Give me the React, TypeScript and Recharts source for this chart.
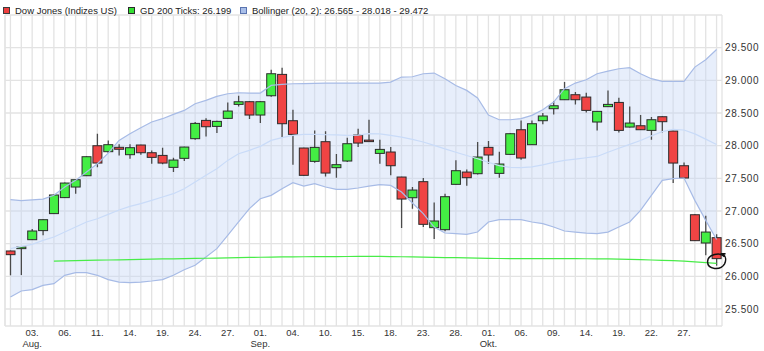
import React from 'react';
import {
  ComposedChart,
  Bar,
  Line,
  Area,
  XAxis,
  YAxis,
  CartesianGrid,
  ReferenceDot,
  ReferenceLine,
} from 'recharts';

// Trading days (Dow Jones, 30.07.2020 - 30.10.2020)
const dates = [
  '2020-07-30', '2020-07-31',
  '2020-08-03', '2020-08-04', '2020-08-05', '2020-08-06', '2020-08-07',
  '2020-08-10', '2020-08-11', '2020-08-12', '2020-08-13', '2020-08-14',
  '2020-08-17', '2020-08-18', '2020-08-19', '2020-08-20', '2020-08-21',
  '2020-08-24', '2020-08-25', '2020-08-26', '2020-08-27', '2020-08-28',
  '2020-08-31', '2020-09-01', '2020-09-02', '2020-09-03', '2020-09-04',
  '2020-09-08', '2020-09-09', '2020-09-10', '2020-09-11',
  '2020-09-14', '2020-09-15', '2020-09-16', '2020-09-17', '2020-09-18',
  '2020-09-21', '2020-09-22', '2020-09-23', '2020-09-24', '2020-09-25',
  '2020-09-28', '2020-09-29', '2020-09-30', '2020-10-01', '2020-10-02',
  '2020-10-05', '2020-10-06', '2020-10-07', '2020-10-08', '2020-10-09',
  '2020-10-12', '2020-10-13', '2020-10-14', '2020-10-15', '2020-10-16',
  '2020-10-19', '2020-10-20', '2020-10-21', '2020-10-22', '2020-10-23',
  '2020-10-26', '2020-10-27', '2020-10-28', '2020-10-29', '2020-10-30',
];

const opens = [
  26388, 26424, 26561, 26700, 26960, 27205, 27367, 27540, 27999, 27908,
  27975, 27862, 28010, 27892, 27851, 27668, 27806, 28107, 28387, 28295,
  28418, 28632, 28673, 28469, 28764, 29091, 28382, 27964, 27760, 28061,
  27663, 27765, 28163, 28085, 27882, 27903, 27520, 27203, 27449, 26745,
  26714, 27408, 27596, 27571, 27974, 27576, 27867, 28244, 28015, 28382,
  28566, 28703, 28780, 28744, 28362, 28597, 28662, 28285, 28305, 28234,
  28443, 28224, 27693, 26943, 26510, 26592,
];
const highs = [
  26395, 26455, 26725, 26875, 27250, 27435, 27490, 27840, 28183, 28081,
  28020, 28020, 28015, 27928, 27969, 27816, 27985, 28362, 28418, 28380,
  28662, 28764, 28680, 28680, 29162, 29193, 28550, 27970, 28234, 28219,
  27872, 28122, 28260, 28398, 28091, 27979, 27525, 27367, 27505, 27132,
  27265, 27775, 27637, 28055, 28071, 27908, 28190, 28387, 28387, 28499,
  28683, 28974, 28820, 28810, 28530, 28846, 28734, 28601, 28469, 28438,
  28450, 28230, 27744, 26950, 26928, 26643,
];
const lows = [
  26016, 26020, 26555, 26630, 26955, 27200, 27265, 27535, 27668, 27887,
  27850, 27800, 27862, 27724, 27714, 27597, 27765, 28091, 28142, 28193,
  28410, 28600, 28407, 28346, 28750, 28132, 27709, 27540, 27740, 27530,
  27510, 27750, 27979, 28070, 27724, 27546, 26740, 27036, 26755, 26571,
  26690, 27400, 27387, 27560, 27724, 27510, 27860, 27785, 28010, 28326,
  28479, 28700, 28632, 28509, 28234, 28590, 28203, 28280, 28240, 28091,
  28203, 27428, 27500, 26540, 26322, 26163,
];
const closes = [
  26332, 26449, 26694, 26867, 27245, 27428, 27479, 27831, 27734, 28015,
  27945, 27969, 27892, 27821, 27734, 27780, 27979, 28341, 28290, 28372,
  28530, 28672, 28469, 28673, 29101, 28336, 28173, 27546, 27974, 27581,
  27709, 28030, 28040, 28078, 27943, 27693, 27183, 27321, 26796, 26847,
  27219, 27617, 27510, 27826, 27857, 27719, 28183, 27811, 28336, 28454,
  28611, 28856, 28703, 28540, 28525, 28632, 28234, 28346, 28244, 28397,
  28367, 27734, 27505, 26546, 26678, 26271,
];

// GD 200 (200-day moving average), drawn from 05.08.
const gd200 = [
  null, null, null, null, 26234, 26237, 26240, 26244, 26247, 26250,
  26253, 26256, 26260, 26263, 26266, 26268, 26271, 26274, 26277, 26280,
  26283, 26286, 26289, 26292, 26295, 26297, 26299, 26300, 26301, 26302,
  26303, 26304, 26305, 26306, 26305, 26303, 26300, 26297, 26294, 26291,
  26288, 26285, 26282, 26278, 26275, 26273, 26272, 26271, 26271, 26271,
  26271, 26270, 26270, 26269, 26268, 26266, 26263, 26259, 26255, 26250,
  26245, 26240, 26232, 26222, 26211, 26199,
];

// Bollinger (20, 2)
const bbUpper = [
  27173, 27158, 27170, 27183, 27240, 27367, 27469, 27596, 27724, 27887,
  28081, 28183, 28275, 28362, 28413, 28479, 28540, 28642, 28693, 28754,
  28795, 28810, 28805, 28805, 28922, 28938, 28948, 28950, 28953, 28958,
  28958, 28958, 28958, 28958, 28958, 28973, 29050, 29055, 29101, 29111,
  29025, 28922, 28846, 28730, 28470, 28397, 28397, 28413, 28464, 28550,
  28668, 28872, 28958, 29009, 29101, 29142, 29177, 29193, 29101, 29025,
  28984, 28984, 28984, 29203, 29315, 29472,
];
const bbMiddle = [
  26424, 26459, 26490, 26551, 26602, 26678, 26755, 26832, 26882, 26949,
  27015, 27071, 27112, 27163, 27214, 27265, 27341, 27443, 27546, 27647,
  27775, 27877, 27928, 27989, 28081, 28122, 28158, 28173, 28175, 28168,
  28165, 28158, 28160, 28183, 28180, 28158, 28132, 28096, 28056, 28005,
  27950, 27900, 27850, 27800, 27745, 27695, 27668, 27665, 27675, 27705,
  27745, 27775, 27795, 27815, 27835, 27900, 27960, 28020, 28080, 28150,
  28215, 28250, 28240, 28180, 28100, 28018,
];
const bbLower = [
  25684, 25776, 25796, 25862, 25888, 26016, 26056, 26056, 26016, 25949,
  25913, 25903, 25913, 25929, 25949, 26016, 26102, 26169, 26296, 26424,
  26628, 26832, 27036, 27188, 27240, 27341, 27433, 27382, 27418, 27367,
  27331, 27331, 27352, 27382, 27403, 27392, 27290, 27122, 26959, 26755,
  26663, 26653, 26643, 26678, 26832, 26867, 26867, 26867, 26832, 26806,
  26755, 26694, 26678, 26663, 26653, 26678, 26755, 26832, 27010, 27240,
  27469, 27495, 27505, 27163, 26857, 26565,
];

const xTickDates = [
  '2020-08-03', '2020-08-06', '2020-08-11', '2020-08-14', '2020-08-19',
  '2020-08-24', '2020-08-27', '2020-09-01', '2020-09-04', '2020-09-10',
  '2020-09-15', '2020-09-18', '2020-09-23', '2020-09-28', '2020-10-01',
  '2020-10-06', '2020-10-09', '2020-10-14', '2020-10-19', '2020-10-22',
  '2020-10-27',
];
const xTickMonths: Record<string, string> = {
  '2020-08-03': 'Aug.',
  '2020-09-01': 'Sep.',
  '2020-10-01': 'Okt.',
};
const yTicks = [25500, 26000, 26500, 27000, 27500, 28000, 28500, 29000, 29500];
const yDomain = [25240, 30000];

const legendItems = [
  { label: 'Dow Jones (Indizes US)', fill: '#ee3d3d', border: '#3a3a3a', left: 3 },
  { label: 'GD 200 Ticks: 26.199', fill: '#33e033', border: '#2a2a2a', left: 128 },
  { label: 'Bollinger (20, 2): 26.565 - 28.018 - 29.472', fill: '#a9bfe9', border: '#5a74b0', left: 240 },
];

const markerDate = '2020-10-30';
const markerValue = 26222;

const RED = '#f04444';
const GREEN = '#44ee44';
const FONT = '"Liberation Sans", Arial, sans-serif';

const data = dates.map((d, i) => ({
  date: d,
  open: opens[i],
  high: highs[i],
  low: lows[i],
  close: closes[i],
  range: [lows[i], highs[i]],
  gd200: gd200[i],
  upper: bbUpper[i],
  middle: bbMiddle[i],
  lower: bbLower[i],
  band: [bbLower[i], bbUpper[i]],
}));

const fmt = (v: number) => {
  const s = String(Math.round(v));
  return s.length > 3 ? s.slice(0, s.length - 3) + '.' + s.slice(s.length - 3) : s;
};

const Candle = (props: any) => {
  const { x, y, width, height, payload } = props;
  if (!payload || x == null) return null;
  const { open, close, high, low } = payload;
  const top0 = height >= 0 ? y : y + height;
  const h = Math.abs(height);
  const span = high - low || 1;
  const yOf = (v: number) => top0 + ((high - v) / span) * h;
  const cx = x + width / 2;
  const up = close >= open;
  const bTop = yOf(Math.max(open, close));
  const bBot = yOf(Math.min(open, close));
  return (
    <g>
      <line x1={cx} x2={cx} y1={yOf(high)} y2={yOf(low)} stroke="#4a4a4a" strokeWidth={1.3} />
      <rect
        x={x}
        y={bTop}
        width={width}
        height={Math.max(bBot - bTop, 1.5)}
        fill={up ? GREEN : RED}
        stroke="#2b2b2b"
        strokeWidth={1}
      />
    </g>
  );
};

const XTick = (props: any) => {
  const { x, y, payload } = props;
  const d = payload.value as string;
  if (!xTickDates.includes(d)) return null;
  const day = d.slice(8, 10) + '.';
  const month = xTickMonths[d];
  return (
    <g>
      <text x={x} y={y + 10} textAnchor="middle" fontSize={9.5} fill="#333" fontFamily={FONT}>
        {day}
      </text>
      {month && (
        <text x={x} y={y + 20.5} textAnchor="middle" fontSize={9.5} fill="#333" fontFamily={FONT}>
          {month}
        </text>
      )}
    </g>
  );
};

const YTick = (props: any) => {
  const { x, y, payload } = props;
  return (
    <text x={x} y={y} dy={3.5} textAnchor="start" fontSize={10} letterSpacing={0.6} fill="#333" fontFamily={FONT}>
      {fmt(payload.value)}
    </text>
  );
};

const Marker = (props: any) => {
  const { cx, cy } = props;
  if (cx == null || cy == null) return null;
  return (
    <path
      d={`M ${cx + 8} ${cy - 5} C ${cx + 4} ${cy - 10}, ${cx - 9} ${cy - 8}, ${cx - 9} ${cy} C ${cx - 9} ${cy + 8}, ${cx + 4} ${cy + 9}, ${cx + 8} ${cy + 2} C ${cx + 10} ${cy - 2}, ${cx + 9} ${cy - 6}, ${cx + 6} ${cy - 8} L ${cx + 9} ${cy - 8}`}
      fill="none"
      stroke="#111"
      strokeWidth={1.5}
    />
  );
};

export default function App() {
  return (
    <div style={{ position: 'absolute', left: 0, top: 0, width: 764, height: 351, background: '#fff' }}>
      <ComposedChart
        width={764}
        height={351}
        data={data}
        margin={{ top: 15, right: 0, bottom: 0, left: 5 }}
      >
        <CartesianGrid stroke="#e3e3e3" strokeWidth={1.3} />
        <XAxis
          dataKey="date"
          interval={0}
          tickLine={false}
          axisLine={false}
          tickSize={0}
          tickMargin={0}
          height={25}
          tick={<XTick />}
        />
        <YAxis
          orientation="right"
          domain={yDomain}
          ticks={yTicks}
          allowDataOverflow
          tickLine={false}
          axisLine={false}
          tickSize={0}
          tickMargin={3}
          width={42}
          tick={<YTick />}
        />
        <ReferenceLine x={dates[0]} position="start" stroke="#e3e3e3" strokeWidth={1.3} />
        <Area
          dataKey="band"
          stroke="none"
          fill="#c6d6f6"
          fillOpacity={0.42}
          isAnimationActive={false}
          dot={false}
          activeDot={false}
        />
        <Line dataKey="upper" stroke="#a7bbe6" strokeWidth={1.2} dot={false} activeDot={false} isAnimationActive={false} />
        <Line dataKey="lower" stroke="#a7bbe6" strokeWidth={1.2} dot={false} activeDot={false} isAnimationActive={false} />
        <Line dataKey="middle" stroke="#c9dbf8" strokeWidth={1.2} dot={false} activeDot={false} isAnimationActive={false} />
        <Line dataKey="gd200" stroke="#48ec48" strokeWidth={1.2} dot={false} activeDot={false} connectNulls={false} isAnimationActive={false} />
        <Bar dataKey="range" barSize={9} shape={<Candle />} isAnimationActive={false} />
        <ReferenceDot x={markerDate} y={markerValue} r={8} shape={<Marker />} />
      </ComposedChart>
      {legendItems.map((it) => (
        <div
          key={it.label}
          style={{
            position: 'absolute',
            left: it.left,
            top: 3,
            height: 14,
            display: 'flex',
            alignItems: 'center',
            fontFamily: FONT,
            fontSize: 9.5,
            color: '#222',
            whiteSpace: 'nowrap',
          }}
        >
          <span
            style={{
              display: 'inline-block',
              width: 5,
              height: 5,
              background: it.fill,
              border: `1px solid ${it.border}`,
              marginRight: 5,
            }}
          />
          <span>{it.label}</span>
        </div>
      ))}
    </div>
  );
}
